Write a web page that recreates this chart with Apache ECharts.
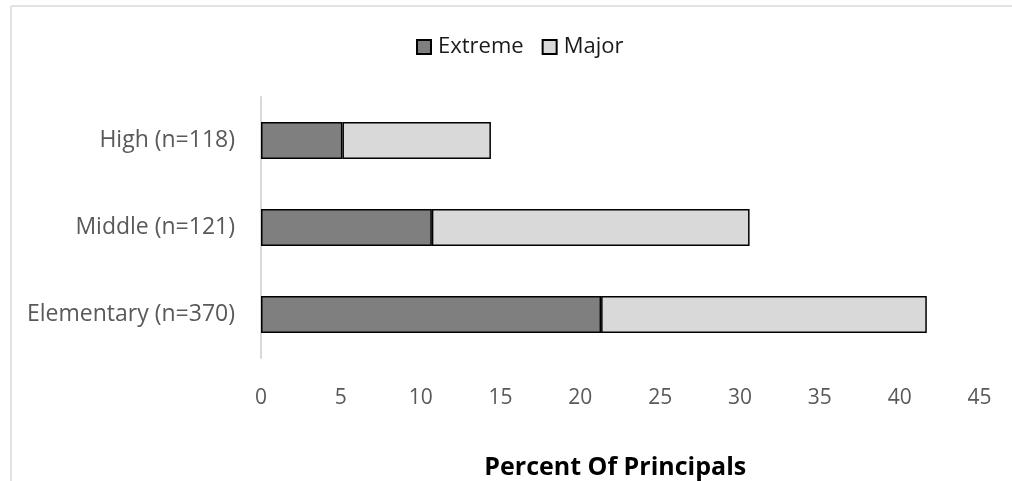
<!DOCTYPE html>
<html>
<head>
<meta charset="utf-8">
<script src="https://cdn.jsdelivr.net/npm/echarts@6/dist/echarts.min.js"></script>
<style>
  html, body { margin: 0; padding: 0; background: #ffffff; }
  #chart { width: 1012px; height: 481px; }
</style>
</head>
<body>
<div id="chart"></div>
<script>
// School levels, bottom to top
const categories = ['Elementary (n=370)', 'Middle (n=121)', 'High (n=118)'];
// Percent of principals reporting each level of concern
const extremeValues = [21.3, 10.7, 5.1];
const majorValues = [20.4, 19.9, 9.3];
const xTicks = [0, 5, 10, 15, 20, 25, 30, 35, 40, 45];

const FONT = '"Open Sans", "Noto Sans", sans-serif';

const chart = echarts.init(document.getElementById('chart'), null, { renderer: 'canvas' });

chart.setOption({
  backgroundColor: '#ffffff',
  animation: false,
  textStyle: { fontFamily: FONT },
  graphic: [
    // outer frame: top and left edges
    { type: 'line', shape: { x1: 11, y1: 6, x2: 1012, y2: 6 }, style: { stroke: '#d9d9d9', lineWidth: 1.5 } },
    { type: 'line', shape: { x1: 11, y1: 6, x2: 11, y2: 481 }, style: { stroke: '#d9d9d9', lineWidth: 1.5 } }
  ],
  legend: {
    top: 31,
    left: 411,
    icon: 'rect',
    itemWidth: 14,
    itemHeight: 14,
    itemGap: 18,
    textStyle: { fontFamily: FONT, fontSize: 22, color: '#1a1a1a', padding: [0, 0, 0, 2] },
    data: ['Extreme', 'Major']
  },
  grid: {
    left: 261,
    right: 32.5,
    top: 97,
    bottom: 123,
    containLabel: false,
    outerBoundsMode: 'none'
  },
  xAxis: {
    type: 'value',
    min: xTicks[0],
    max: xTicks[xTicks.length - 1],
    interval: 5,
    axisLine: { show: false },
    axisTick: { show: false },
    splitLine: { show: false },
    axisLabel: { fontFamily: FONT, fontSize: 21, color: '#595959', margin: 30 },
    name: 'Percent Of Principals',
    nameLocation: 'middle',
    nameGap: 97,
    nameTextStyle: { fontFamily: FONT, fontSize: 25, fontWeight: 'bold', color: '#000000', padding: [0, 10, 0, 0] }
  },
  yAxis: {
    type: 'category',
    data: categories,
    axisLine: { show: true, lineStyle: { color: '#d9d9d9', width: 2 } },
    axisTick: { show: false },
    axisLabel: { fontFamily: FONT, fontSize: 23, color: '#595959', margin: 26, padding: [8, 0, 0, 0] }
  },
  series: [
    {
      name: 'Extreme',
      type: 'bar',
      stack: 'total',
      data: extremeValues,
      barWidth: 37,
      itemStyle: { color: '#7f7f7f', borderColor: '#000000', borderWidth: 1.5 }
    },
    {
      name: 'Major',
      type: 'bar',
      stack: 'total',
      data: majorValues,
      barWidth: 37,
      itemStyle: { color: '#d9d9d9', borderColor: '#000000', borderWidth: 1.5 }
    }
  ]
});
</script>
</body>
</html>
